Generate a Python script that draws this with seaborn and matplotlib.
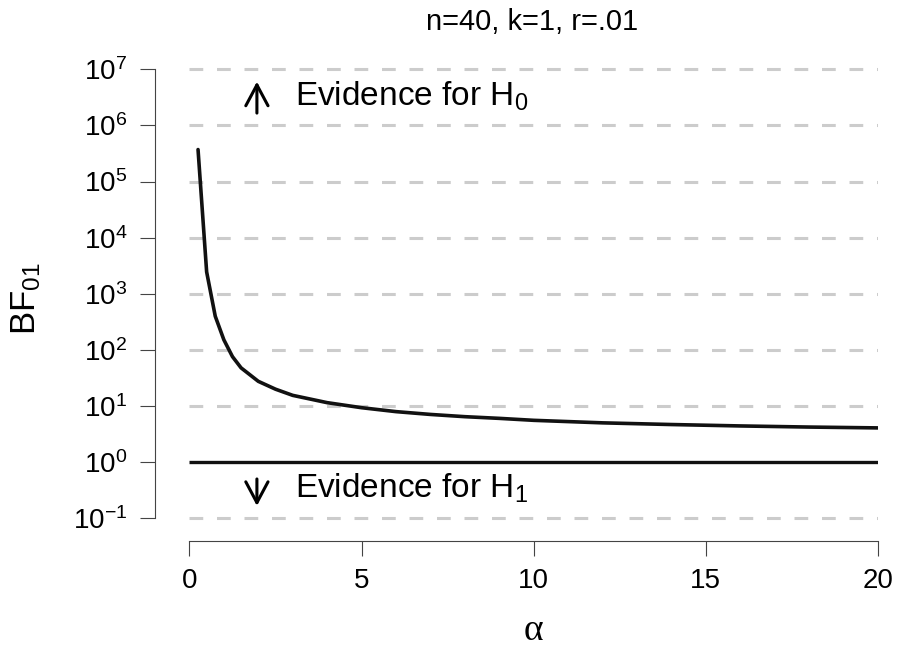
import numpy as np
import pandas as pd
import matplotlib
matplotlib.use('Agg')
import matplotlib.pyplot as plt
from matplotlib.ticker import LogFormatterSciNotation, FixedLocator
import seaborn as sns

# values (alpha vs log10 BF01)
alpha = [0.25, 0.5, 0.75, 1.0, 1.25, 1.5, 2, 2.5, 3, 4, 5, 6, 7, 8, 9, 10,
         12, 14, 16, 18, 20]
log_bf = [5.57, 3.39, 2.60, 2.18, 1.88, 1.68, 1.44, 1.30, 1.19, 1.06, 0.97,
          0.90, 0.85, 0.81, 0.78, 0.745, 0.70, 0.67, 0.645, 0.625, 0.61]
decades = [-1, 0, 1, 2, 3, 4, 5, 6, 7]
x_ticks = [0, 5, 10, 15, 20]
title = "n=40, k=1, r=.01"

df = pd.DataFrame({"alpha": alpha, "bf": 10.0 ** np.array(log_bf)})

sns.set_style("white")
plt.rcParams['font.family'] = ['Liberation Sans', 'DejaVu Sans']
plt.rcParams['mathtext.fontset'] = 'custom'
plt.rcParams['mathtext.rm'] = 'Liberation Sans'
plt.rcParams['mathtext.it'] = 'Liberation Sans:italic'
plt.rcParams['mathtext.bf'] = 'Liberation Sans:bold'
plt.rcParams['text.color'] = 'black'
plt.rcParams['axes.labelcolor'] = 'black'

fig = plt.figure(figsize=(9.01, 6.47), dpi=100)
ax = fig.add_axes([155 / 901, (647 - 540.7) / 647, (878 - 155) / 901, (540.7 - 63.7) / 647])

ax.set_yscale('log')
ax.set_xlim(-1.0, 20.0)
ax.set_ylim(10 ** -1.40, 10 ** 7.1)

# grid lines at each decade, solid line at BF=1
for d in decades:
    if d == 0:
        continue
    ax.hlines(10.0 ** d, 0, 20, colors='#cccccc', linestyles=(0, (4.5, 4.5)), lw=2.2, zorder=1)
ax.hlines(1.0, 0, 20, colors='#111111', lw=2.4, zorder=2)

sns.lineplot(data=df, x="alpha", y="bf", ax=ax, color='#111111', lw=2.6, zorder=3)

for s in ['top', 'right']:
    ax.spines[s].set_visible(False)
ax.spines['left'].set_bounds(10.0 ** -1, 10.0 ** 7)
ax.spines['bottom'].set_bounds(0, 20)
for s in ['left', 'bottom']:
    ax.spines[s].set_color('#444444')
    ax.spines[s].set_linewidth(0.8)

ax.yaxis.set_major_locator(FixedLocator([10.0 ** d for d in decades]))
ax.yaxis.set_major_formatter(LogFormatterSciNotation())
ax.yaxis.set_minor_locator(FixedLocator([]))
ax.set_xticks(x_ticks)
ax.set_xticklabels([str(t) for t in x_ticks])
ax.tick_params(axis='both', which='major', direction='out', length=10.8, width=0.8,
               color='#444444', labelcolor='black', labelsize=20, pad=9, left=True, bottom=True)

ax.set_xlabel("α", fontsize=27, family=['Liberation Serif', 'DejaVu Serif'])
ax.xaxis.set_label_coords((533 - 155) / 723, (540.7 - 631) / 477)
ax.xaxis.label.set_va('center')
ax.set_ylabel("BF$_{01}$", fontsize=25)
ax.yaxis.set_label_coords((26 - 155) / 723, 0.507)
ax.yaxis.label.set_va('center')

ax.text((532 - 155) / 723, (540.7 - 22) / 477, title, transform=ax.transAxes,
        ha='center', va='center', fontsize=21)

# evidence annotations
arrow_style = dict(arrowstyle='->,head_length=1.5,head_width=0.8', lw=2.2, color='black',
                   shrinkA=0, shrinkB=0)
ax.annotate("", xy=(1.96, 10 ** 6.78), xytext=(1.96, 10 ** 6.22), arrowprops=arrow_style)
ax.annotate("", xy=(1.96, 10 ** -0.78), xytext=(1.96, 10 ** -0.30), arrowprops=arrow_style)
ax.text(3.07, 10 ** 6.52, "Evidence for H$_0$", fontsize=24, va='center', ha='left')
ax.text(3.07, 10 ** -0.47, "Evidence for H$_1$", fontsize=24, va='center', ha='left')

fig.savefig("out.png", dpi=100)
